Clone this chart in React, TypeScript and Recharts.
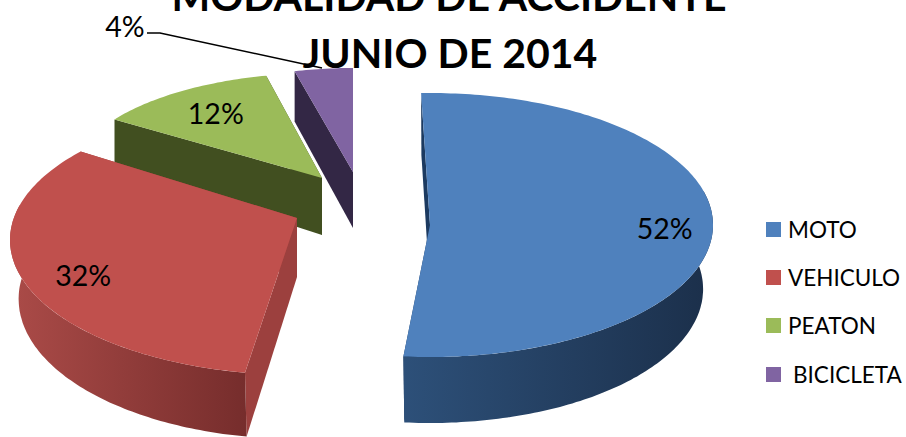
import React from 'react';
import { PieChart, Pie, Legend } from 'recharts';

const names = ['MOTO', 'VEHICULO', 'PEATON', 'BICICLETA'];
const shares = [52, 32, 12, 4];
const colors = ['#4f81bd', '#c0504d', '#9bbb59', '#8064a2'];
const titleLines = ['MODALIDAD DE ACCIDENTE', 'JUNIO DE 2014'];

const FONT = 'Lato, "Open Sans", sans-serif';

// 3D look of each exploded slice: the pie is drawn flat by Recharts, this tilts it
const tilt: Record<string, any> = {
  MOTO: { ax: 430, ay: 225, cx: 430, cy: 225, rx: 283, ry: 132, rot: -1.8, spread: 1, dFar: 62, dNear: 66, ring: 0.965, label: 0.83,
    wallFrom: '#2d5079', wallTo: '#1b2f4a', edge: '#1c3a60' },
  VEHICULO: { ax: 297, ay: 218, cx: 298, cy: 240, rx: 288, ry: 135, rot: 6, spread: 1.045, dFar: 54, dNear: 64, ring: 0.97, label: 0.79,
    wallFrom: '#ab4b48', wallTo: '#762d2c', edge: '#9c403e' },
  PEATON: { ax: 322, ay: 178, cx: 322, cy: 178, rx: 250, ry: 105, rot: 1.5, spread: 1, dFar: 42, dNear: 72, ring: 1, label: 0.75,
    wallFrom: '#414f20', wallTo: '#414f20', edge: '#414f20' },
  BICICLETA: { ax: 353, ay: 172, cx: 353, cy: 172, rx: 235, ry: 104, rot: 0, spread: 1, dFar: 50, dNear: 62, ring: 1, label: 0,
    wallFrom: '#332745', wallTo: '#332745', edge: '#332745' },
};

const rad = (d: number) => (d * Math.PI) / 180;

// angle is clockwise from the top of the pie
const onTop = (g: any, a: number, r = 1) => [g.cx + r * g.rx * Math.sin(rad(a)), g.cy - r * g.ry * Math.cos(rad(a))];
const depthAt = (g: any, a: number) => g.dFar + ((g.dNear - g.dFar) * (1 - Math.cos(rad(a)))) / 2;
const onRing = (g: any, a: number) => [
  g.cx + g.ring * g.rx * Math.sin(rad(a)),
  g.cy - g.ry * Math.cos(rad(a)) + depthAt(g, a),
];

const toPath = (pts: number[][]) => 'M' + pts.map((p) => p[0].toFixed(1) + ' ' + p[1].toFixed(1)).join('L') + 'Z';

const sliceAngles = (g: any, startAngle: number, endAngle: number) => {
  let a0 = 90 - endAngle;
  let a1 = 90 - startAngle;
  if (a1 <= 0) {
    a0 += 360;
    a1 += 360;
  }
  const mid = (a0 + a1) / 2;
  return {
    from: mid + g.rot + (a0 - mid) * g.spread,
    to: mid + g.rot + (a1 - mid) * g.spread,
    mid: mid + g.rot,
  };
};

const sweep = (from: number, to: number, fn: (a: number) => number[]) => {
  const pts = [];
  const n = Math.max(2, Math.ceil(to - from));
  for (let i = 0; i <= n; i++) pts.push(fn(from + ((to - from) * i) / n));
  return pts;
};

const Slice3D = (props: any) => {
  const name = props.name ?? props.payload?.name;
  const g = tilt[name];
  const { from, to } = sliceAngles(g, props.startAngle, props.endAngle);
  const apex = [g.ax, g.ay];
  const apexLow = [g.ax, g.ay + (g.dFar + g.dNear) / 2];

  const wallStart = Math.max(from, 75);
  const wallEnd = Math.min(to, 285);
  const id = 'wall-' + name;

  return (
    <g>
      <defs>
        <linearGradient id={id} x1="0" y1="0" x2="1" y2="0">
          <stop offset="0%" stopColor={g.wallFrom} />
          <stop offset="100%" stopColor={g.wallTo} />
        </linearGradient>
      </defs>
      <path d={toPath([apex, onTop(g, to), onRing(g, to), apexLow])} fill={g.edge} />
      <path d={toPath([apex, onTop(g, from), onRing(g, from), apexLow])} fill={g.edge} />
      {wallEnd > wallStart && (
        <path
          d={toPath([
            ...sweep(wallStart, wallEnd, (a) => onTop(g, a)),
            ...sweep(wallStart, wallEnd, (a) => onRing(g, a)).reverse(),
          ])}
          fill={`url(#${id})`}
        />
      )}
      <path d={toPath([apex, ...sweep(from, to, (a) => onTop(g, a))])} fill={props.fill} />
    </g>
  );
};

const SliceLabel = (props: any) => {
  const name = props.name ?? props.payload?.name;
  const g = tilt[name];
  const text = props.value + '%';
  const style = { fontFamily: FONT, fontSize: 28.5, fill: '#000' };
  if (name === 'BICICLETA') {
    // the small slice has its label outside, with a leader line
    return (
      <g>
        <polyline points="147,33 160,33 322,68" fill="none" stroke="#000" strokeWidth={1.5} />
        <text x={125} y={26} textAnchor="middle" dominantBaseline="central" {...style}>{text}</text>
      </g>
    );
  }
  const { mid } = sliceAngles(g, props.startAngle, props.endAngle);
  const [x, y] = onTop(g, mid, g.label);
  return <text x={x} y={y} textAnchor="middle" dominantBaseline="central" {...style}>{text}</text>;
};

const LegendRows = () => (
  <div style={{ fontFamily: FONT, fontSize: 22.5, color: '#000' }}>
    {names.map((n, i) => (
      <div key={n} style={{ display: 'flex', alignItems: 'center', height: 48.3, whiteSpace: 'pre' }}>
        <span style={{ width: 15, height: 15, background: colors[i], marginRight: n === 'BICICLETA' ? 12 : 7 }} />
        {n}
      </div>
    ))}
  </div>
);

// drawn far to near, so the order is reversed and the pie runs counter-clockwise
const pieData = names.map((name, i) => ({ name, value: shares[i], fill: colors[i] })).reverse();

export default function App() {
  return (
    <div style={{ position: 'absolute', left: 0, top: 0, width: 906, height: 437, overflow: 'hidden', background: '#fff' }}>
      <PieChart width={906} height={437} margin={{ top: 0, right: 0, bottom: 0, left: 0 }}>
        <Pie
          data={pieData}
          dataKey="value"
          nameKey="name"
          cx={400}
          cy={220}
          outerRadius={200}
          startAngle={90}
          endAngle={450}
          stroke="none"
          shape={Slice3D}
          label={SliceLabel}
          labelLine={false}
          isAnimationActive={false}
        />
        <Legend content={LegendRows} wrapperStyle={{ position: 'absolute', left: 766, top: 205, width: 140, bottom: 'auto' }} />
        <text x={449} y={11} textAnchor="middle" fontFamily={FONT} fontSize={41} fontWeight={700} fill="#000">{titleLines[0]}</text>
        <text x={450} y={68} textAnchor="middle" fontFamily={FONT} fontSize={41} fontWeight={700} fill="#000">{titleLines[1]}</text>
      </PieChart>
    </div>
  );
}
